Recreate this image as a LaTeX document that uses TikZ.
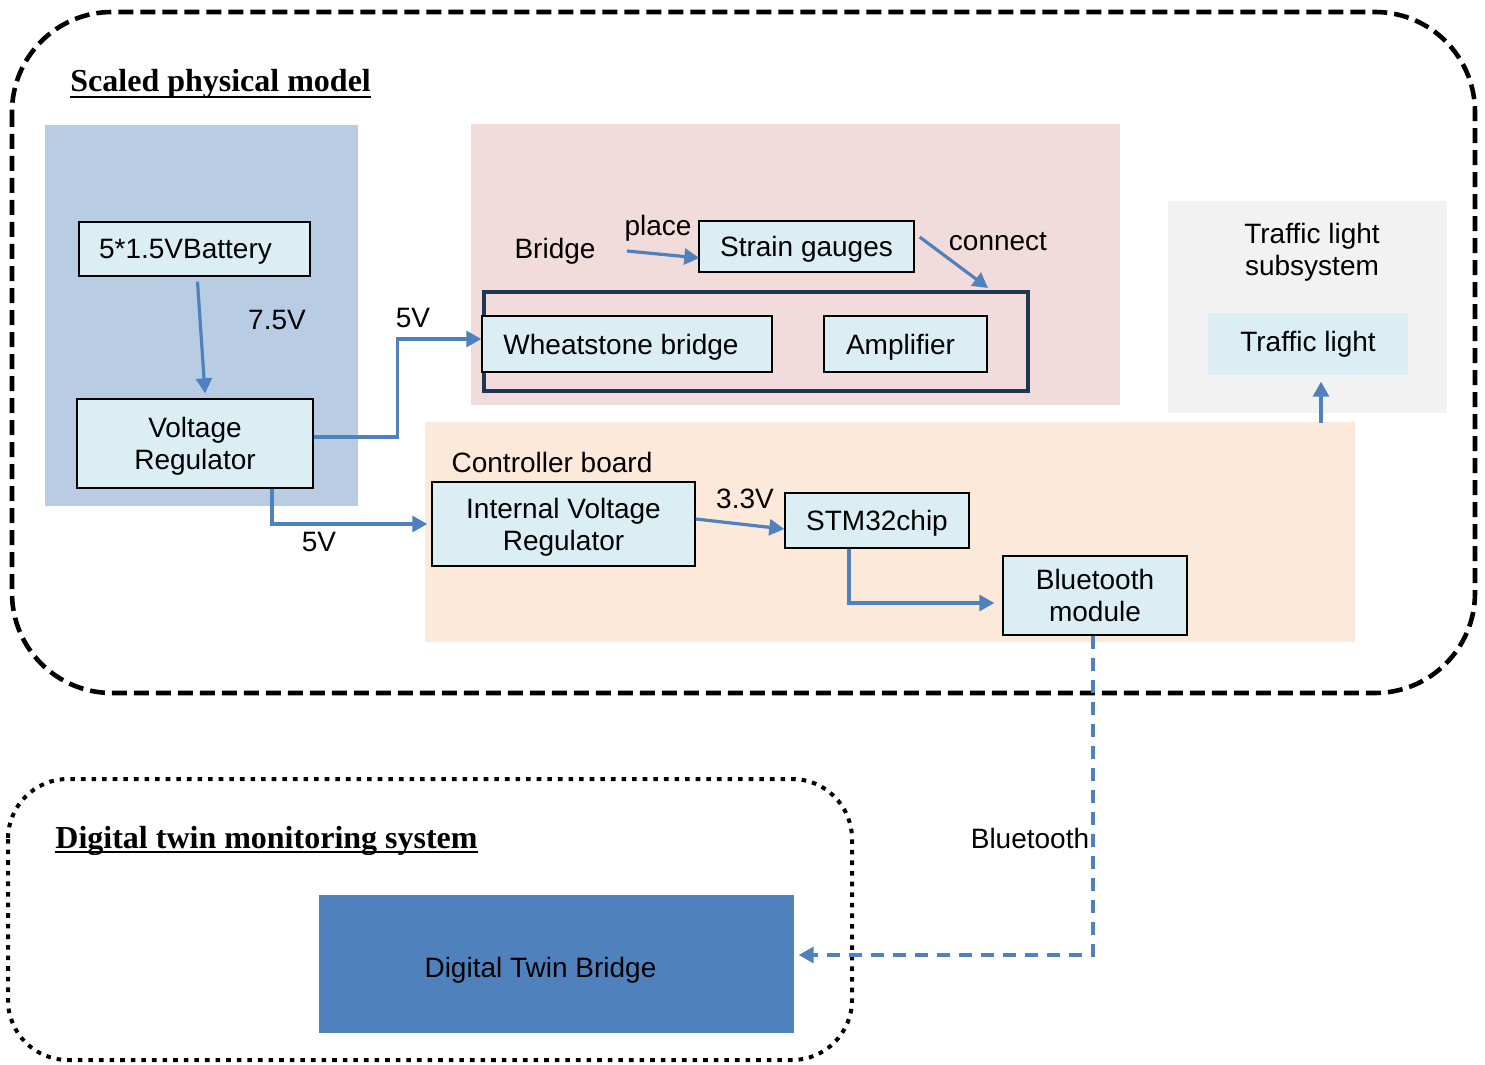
\documentclass[tikz,border=0pt]{standalone}
\usepackage{fontspec}
\setmainfont{Liberation Sans}
\newfontfamily\titlefont{Liberation Serif}
\usetikzlibrary{arrows.meta,calc}
\definecolor{panelblue}{HTML}{B8CCE4}
\definecolor{panelpink}{HTML}{F2DCDB}
\definecolor{panelpeach}{HTML}{FDE9D9}
\definecolor{panelgray}{HTML}{F2F2F2}
\definecolor{boxfill}{HTML}{DAEEF3}
\definecolor{arrowblue}{HTML}{4F81BD}
\definecolor{framecol}{HTML}{1F3550}
\definecolor{twinfill}{HTML}{4F81BD}
\begin{document}
\begin{tikzpicture}[x=0.5pt,y=-0.5pt,
  blk/.style={draw=black, line width=0.7pt, fill=boxfill, inner sep=0pt, align=center, text depth=0pt, font=\fontsize{14}{16}\selectfont},
  lbl/.style={inner sep=0pt, align=center, font=\fontsize{14}{16}\selectfont},
  ttl/.style={inner sep=0pt, font=\titlefont\bfseries\fontsize{16}{18}\selectfont},
  arr/.style={draw=arrowblue, line width=1.6pt, -{Triangle[length=7.5pt,width=8pt]}},
  darr/.style={arr, dash pattern=on 6.5pt off 4.5pt}
]
\useasboundingbox (0,0) rectangle (1485,1065);

% panels
\fill[panelblue] (45,125) rectangle (358,506);
\fill[panelpink] (471,124) rectangle (1120,405);
\fill[panelgray] (1168,201) rectangle (1447,413);
\fill[panelpeach] (425,422) rectangle (1355,642);

% frames
\draw[line width=2.3pt, dash pattern=on 7.5pt off 3.5pt, rounded corners=50pt] (12,12) rectangle (1475,693);
\draw[line width=2pt, dash pattern=on 2.3pt off 3pt, rounded corners=30pt] (8,779) rectangle (852,1060);

% titles
\node[ttl, anchor=base west] (t1) at (70,92) {Scaled physical model};
\draw[line width=1pt] ($(t1.base west)+(0,5)$) -- ($(t1.base east)+(0,5)$);
\node[ttl, anchor=base west] (t2) at (55,848) {Digital twin monitoring system};
\draw[line width=1pt] ($(t2.base west)+(0,4)$) -- ($(t2.base east)+(0,4)$);

% boxes
\node[blk, minimum width=115.5pt, minimum height=27pt] (bat) at (194.5,249) {5*1.5VBattery\hspace*{9pt}};
\node[blk, minimum width=118pt, minimum height=44.5pt] (vr) at (195,443.5) {Voltage\\Regulator};
\node[blk, minimum width=107.5pt, minimum height=25.5pt] (sg) at (806.5,246.5) {Strain gauges};
\node[draw=framecol, line width=2pt, inner sep=0pt, minimum width=272pt, minimum height=49.5pt] (frame) at (756,341.5) {};
\node[blk, minimum width=145pt, minimum height=28pt] (wb) at (627,344) {Wheatstone bridge\hspace*{6pt}};
\node[blk, minimum width=81.5pt, minimum height=28pt] (amp) at (905.5,344) {Amplifier\hspace*{5pt}};
\node[blk, draw=none, text depth=, minimum width=100pt, minimum height=31pt] (tl) at (1308,344) {Traffic light};
\node[blk, minimum width=131.5pt, minimum height=42pt] (ivr) at (563.5,524) {Internal Voltage\\Regulator};
\node[blk, minimum width=92pt, minimum height=27.5pt] (stm) at (877,520.5) {STM32chip};
\node[blk, minimum width=92pt, minimum height=39.5pt] (bt) at (1095,595.5) {Bluetooth\\module};
\node[blk, draw=none, fill=twinfill, text height=13pt, minimum width=237.5pt, minimum height=69pt] (dtb) at (556.5,964) {Digital Twin Bridge\hspace*{16pt}};

% labels
\node[lbl] (l75) at (277,320) {7.5V};
\node[lbl] (l5a) at (413,318) {5V};
\node[lbl] (lbr) at (555,251) {Bridge};
\node[lbl] (lpl) at (658,228) {place};
\node[lbl] (lcn) at (998,242) {connect};
\node[lbl] (ltls) at (1312,252) {Traffic light\\subsystem};
\node[lbl] (lcb) at (552,462) {Controller board};
\node[lbl] (l5b) at (319,542) {5V};
\node[lbl] (l33) at (745,499) {3.3V};
\node[lbl] (lbtl) at (1030,838) {Bluetooth};

% connectors
\coordinate (pl) at (627,251);
\draw[arr] ($(bat.south)+(3,5)$) -- ($(vr.north)+(10,-5)$);
\draw[arr] ($(vr.east)+(0,-6.5)$) -- ++(84,0) |- ($(wb.west)+(0,-5)$);
\draw[arr] ($(vr.south)+(77,0)$) |- ($(ivr.west)+(-4,0)$);
\draw[arr] ($(ivr.east)+(0,-5)$) -- ($(stm.west)+(0,8.5)$);
\draw[arr] ($(stm.south)+(-28,0)$) |- ($(bt.west)+(-8,7.5)$);
\draw[arr] (pl) -- ($(sg.west)+(1,11.5)$);
\draw[arr] ($(sg.east)+(5,-9.5)$) -- ($(frame.north)+(232,-2)$);
\draw[arr] ($(tl.south)+(13,47)$) -- ($(tl.south)+(13,6)$);
\draw[darr] ($(bt.south)+(-2,0)$) |- ($(dtb.east)+(4,-9)$);
\end{tikzpicture}
\end{document}
